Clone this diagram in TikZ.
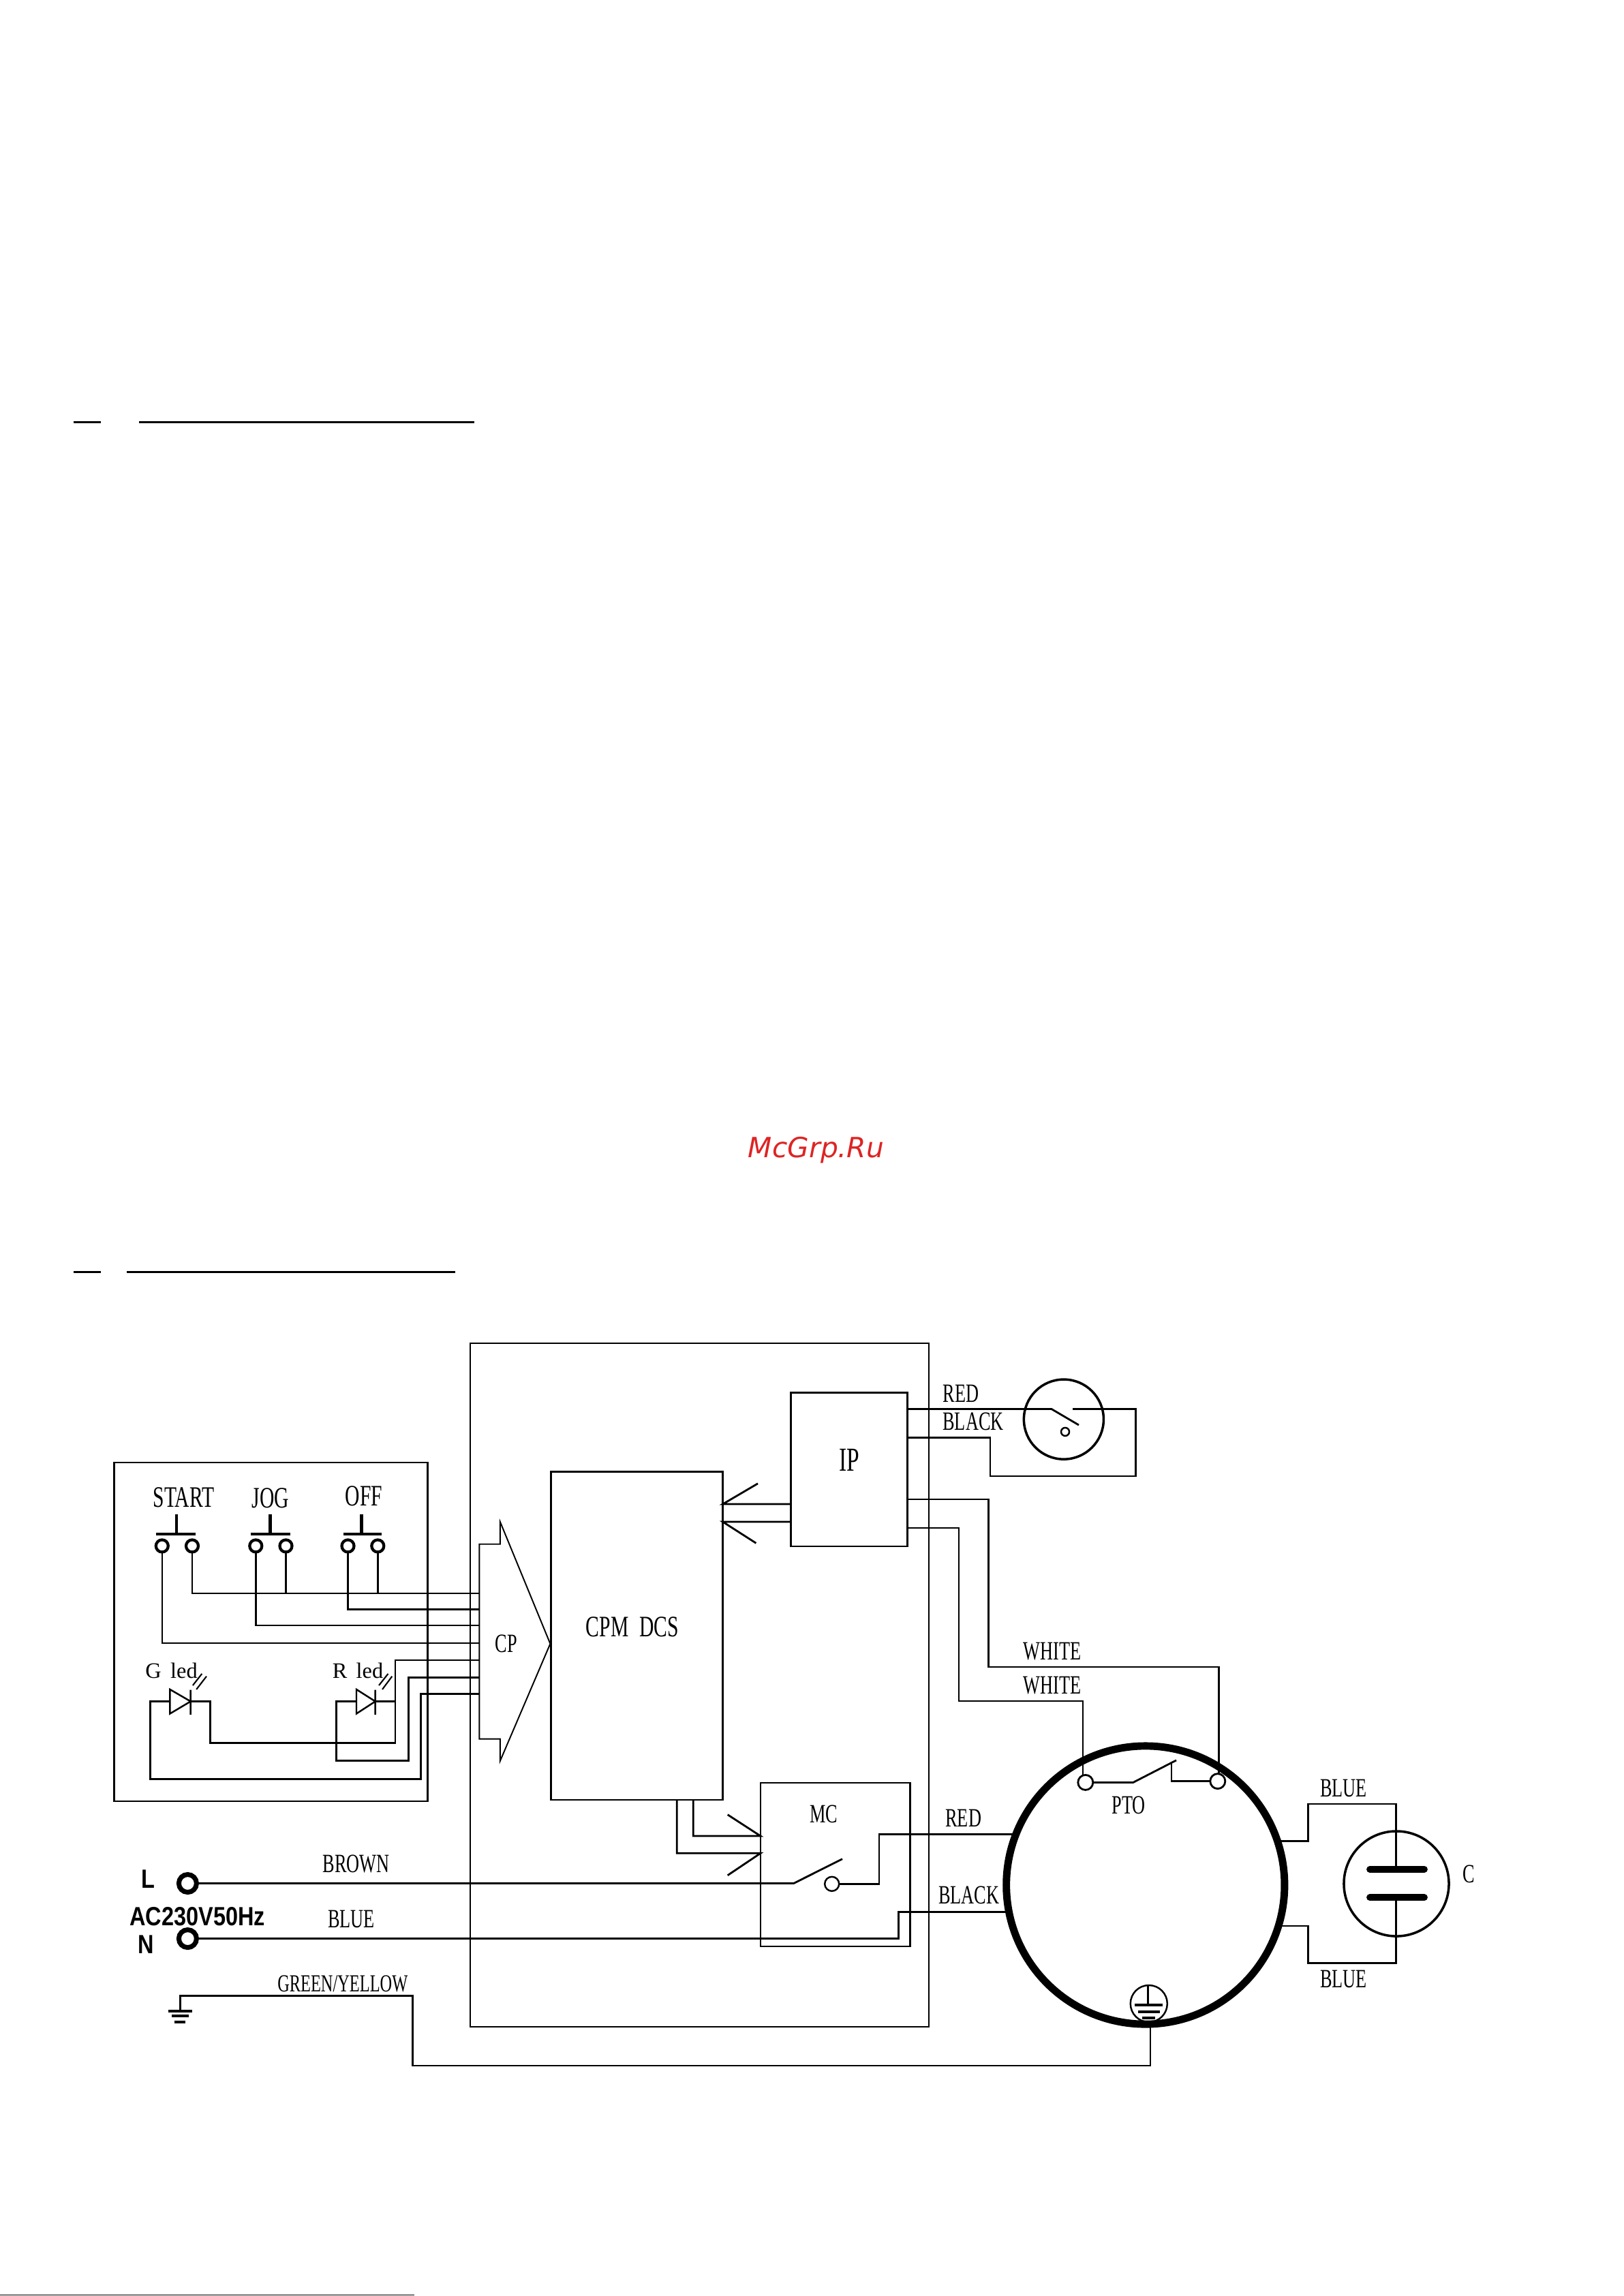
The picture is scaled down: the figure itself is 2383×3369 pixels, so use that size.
\documentclass[tikz,border=0pt]{standalone}
\usepackage{fontspec}
\setmainfont{Liberation Serif}
\newfontfamily\wirefont[FakeStretch=0.68]{Liberation Serif}
\newfontfamily\acfont[FakeStretch=0.84]{Liberation Sans}
\newfontfamily\markfont{DejaVu Sans}
\definecolor{markred}{RGB}{222,36,36}
\tikzset{
	wire/.style={line width=0.8pt},
	thinwire/.style={line width=0.55pt},
	box/.style={rectangle,draw,line width=0.75pt,inner sep=0pt,outer sep=0pt},
	contact/.style={circle,draw,fill=white,line width=1.2pt,minimum size=0.18cm,inner sep=0pt,outer sep=0pt},
	ring/.style={circle,draw,line width=1pt,inner sep=0pt,outer sep=0pt},
	lbl/.style={inner sep=0pt,font=\wirefont\fontsize{11}{11}\selectfont},
	biglbl/.style={inner sep=0pt,font=\wirefont\fontsize{12.4}{13}\selectfont},
	ledlbl/.style={inner sep=0pt,font=\fontsize{9.2}{10}\selectfont},
	sans/.style={inner sep=0pt,font=\acfont\bfseries\fontsize{11}{12}\selectfont}
}
\begin{document}
\begin{tikzpicture}[x=0.01cm,y=-0.01cm]
	\useasboundingbox (0,0) rectangle (2383,3369);
	\draw[line width=0.95pt] (108,619.3)--(148,619.3) (204,619.3)--(696,619.3);
	\draw[line width=0.95pt] (108,1866.3)--(148,1866.3) (185.8,1866.3)--(668,1866.3);
	\draw[line width=0.4pt] (0,3367.6)--(608,3367.6);
	\node[inner sep=0pt,text=markred,font=\markfont\itshape\fontsize{11.6}{12}\selectfont] (mark) at (1197.5,1688) {McGrp.Ru};
	% boxes
	\node[box,minimum width=4.598cm,minimum height=4.967cm] (panel) at (397.6,2394.4) {};
	\node[box,line width=0.65pt,minimum width=6.726cm,minimum height=10.02cm] (cabinet) at (1026.3,2472.4) {};
	\node[box,minimum width=2.518cm,minimum height=4.812cm] (cpm) at (934.6,2400.4) {};
	\node[box,minimum width=1.715cm,minimum height=2.255cm] (ip) at (1246,2156) {};
	\node[box,minimum width=2.196cm,minimum height=2.4cm] (mc) at (1225.8,2736) {};
	\node[biglbl] (cpmtxt) at (928,2387.5) {CPM\hspace{2.5pt} DCS};
	\node[biglbl,font=\wirefont\fontsize{14}{14}\selectfont] (iptxt) at (1246,2142) {IP};
	\node[lbl] (mctxt) at (1208.8,2661.7) {MC};
	% push buttons
	\foreach \nm/\txt/\lx/\rx/\sx/\bl/\br/\tx/\ty in {start/START/237.8/282/259/229/287/269.5/2197.6,jog/JOG/375.3/419.5/396.7/367.7/425.7/396.7/2198.7,off/OFF/510.5/554.3/530.6/503.8/559.6/533.8/2195.7}{
		\node[contact] (\nm l) at (\lx,2268.4) {};
		\node[contact] (\nm r) at (\rx,2268.4) {};
		\draw[line width=1.4pt] (\sx,2221.7)--(\sx,2251) (\bl,2251)--(\br,2251);
		\node[biglbl] (\nm txt) at (\tx,\ty) {\txt};
	}
	% plug
	\draw[line width=0.55pt] (703.4,2265.7)--(733.8,2265.7)--(733.8,2232.8)--(807.4,2411.9)--(733.8,2584)--(733.8,2551.6)--(703.4,2551.6)--cycle;
	\node[lbl] (cptxt) at (742.7,2412) {CP};
	\foreach \n/\y in {1/2338,2/2361.4,3/2385,4/2410.8,5/2436,6/2461.3,7/2485.8}
		\coordinate (cp\n) at (703.4,\y);
	\draw[wire] (startr.south) |- (cp1);
	\draw[wire] (jogr.south) -- (jogr.south |- cp1);
	\draw[wire] (offr.south) -- (offr.south |- cp1);
	\draw[wire] (offl.south) |- (cp2);
	\draw[wire] (jogl.south) |- (cp3);
	\draw[thinwire] (startl.south) |- (cp4);
	% leds
	\foreach \nm/\ax/\cx/\txt/\tx/\ra/\rb/\rc/\rd in {g/249.4/279.7/G\hspace{1.5pt} led/251.6/282.9/296.3/288.2/303,r/523/550.7/R\hspace{1.5pt} led/525/556/569.5/561/575.3}{
		\coordinate (\nm an) at (\ax,2496.5);
		\coordinate (\nm cat) at (\cx,2496.5);
		\draw[line width=0.7pt] (\ax,2478.9)--(\cx,2496.5)--(\ax,2514.5)--cycle (\cx,2479.6)--(\cx,2516);
		\draw[line width=0.6pt] (\ra,2473)--(\rb,2455.9) (\rc,2478.9)--(\rd,2459.7);
		\node[ledlbl] (\nm txt) at (\tx,2451.3) {\txt};
	}
	\coordinate (ja) at (308.8,2557.3);
	\coordinate (jb) at (580,2557.3);
	\draw[wire] (gcat) -| (ja) -- (jb) |- (cp5);
	\draw[wire] (rcat) -- (rcat -| jb);
	\coordinate (jc) at (493.6,2583.7);
	\coordinate (jd) at (599.4,2583.7);
	\draw[wire] (ran) -| (jc) -- (jd) |- (cp6);
	\coordinate (je) at (220.8,2610.1);
	\coordinate (jf) at (617.7,2610.1);
	\draw[wire] (gan) -| (je) -- (jf) |- (cp7);
	% signal arrows
	\coordinate (ipa) at (cpm.east |- 0,2207);
	\coordinate (ipb) at (cpm.east |- 0,2233);
	\draw[wire] (ip.west |- ipa) -- (ipa) -- (1112,2176.8);
	\draw[wire] (ip.west |- ipb) -- (ipb) -- (1109.4,2264.3);
	\coordinate (mca) at (mc.west |- 0,2694);
	\coordinate (mcb) at (mc.west |- 0,2719.3);
	\draw[wire] (cpm.south -| 1017.2,0) |- (mca) -- (1067.7,2662.7);
	\draw[wire] (cpm.south -| 993.3,0) |- (mcb) -- (1067.7,2751.7);
	% overload switch
	\node[ring,minimum size=1.17cm] (ovl) at (1560.9,2082.6) {};
	\node[ring,line width=0.7pt,minimum size=0.12cm] (ovlc) at (1563,2100.9) {};
	\coordinate (ovla) at (1542.8,2067.4);
	\coordinate (ovlb) at (1574.3,2067.4);
	\draw[wire] (ip.east |- ovla) -- (ovla) -- (1583,2091);
	\coordinate (ovlk) at (1666.7,2166);
	\coordinate (ovlm) at (1453,2109.8);
	\draw[wire] (ovlb) -| (ovlk) -| (ovlm) -- (ip.east |- ovlm);
	\node[lbl] (redtop) at (1410,2045) {RED};
	\node[lbl] (blacktop) at (1428,2086) {BLACK};
	% motor
	\node[circle,draw,line width=3.1pt,minimum size=4.08cm,inner sep=0pt,outer sep=0pt] (motor) at (1680.8,2766) {};
	\node[contact,minimum size=0.22cm,line width=0.8pt] (ptol) at (1592.8,2615.4) {};
	\node[contact,minimum size=0.22cm,line width=0.8pt] (ptor) at (1786.8,2613.6) {};
	\coordinate (ptoa) at (1662.8,2615.4);
	\coordinate (ptob) at (1719,2587.5);
	\draw[wire] (ptol.east) -- (ptoa) -- (1726,2582.9);
	\draw[wire] (ptob) |- (ptor.west);
	\node[lbl] (ptotxt) at (1656,2649.3) {PTO};
	\coordinate (wha) at (1450.4,2200);
	\coordinate (whb) at (1788.5,2446);
	\draw[wire] (ip.east |- wha) -- (wha) |- (whb) -- (ptor.north -| whb);
	\coordinate (whc) at (1406.8,2242);
	\coordinate (whd) at (1589.3,2496);
	\draw[thinwire] (ip.east |- whc) -- (whc) |- (whd) -- (ptol.north -| whd);
	\node[lbl] (white1) at (1544,2423) {WHITE};
	\node[lbl] (white2) at (1544,2473) {WHITE};
	% mains
	\node[circle,draw,line width=2pt,minimum size=0.26cm,inner sep=0pt,outer sep=0pt] (lterm) at (275.4,2763.5) {};
	\node[circle,draw,line width=2pt,minimum size=0.26cm,inner sep=0pt,outer sep=0pt] (nterm) at (275.4,2844.6) {};
	\node[ring,line width=0.7pt,minimum size=0.21cm,fill=white] (mcc) at (1220.7,2764.3) {};
	\coordinate (mcs) at (1164.6,2763.5);
	\draw[wire] (lterm.east) -- (mcs) -- (1236,2727.7);
	\coordinate (bka) at (1318.4,2844.6);
	\coordinate (bkb) at (1318.4,2805.7);
	\draw[wire] (nterm.east) -- (bka) -- (bkb) -- (bkb -| motor.191.2);
	\coordinate (rda) at (1290,2764.3);
	\coordinate (rdb) at (1290,2691.4);
	\draw[wire] (mcc.east) -- (rda) -- (rdb) -- (rdb -| motor.158.7);
	\node[lbl] (brown) at (522.5,2735) {BROWN};
	\node[lbl] (bluel) at (515.4,2816) {BLUE};
	\node[sans] (acv) at (289.8,2811.7) {AC230V50Hz};
	\node[sans] (ltxt) at (217,2756.7) {L};
	\node[sans] (ntxt) at (214.4,2853.3) {N};
	\node[lbl] (redm) at (1413.7,2667.9) {RED};
	\node[lbl] (blackm) at (1421.7,2781) {BLACK};
	% earth
	\coordinate (gnd) at (264.2,2950.7);
	\coordinate (ea) at (605.3,2928.3);
	\coordinate (eb) at (605.3,3031);
	\draw[wire] (gnd) |- (ea) -- (eb) -| (motor.272.2);
	\draw[line width=1.1pt] (246.7,2950.7)--(281.8,2950.7) (252.3,2958.3)--(276.8,2958.3) (255.8,2966.7)--(272,2966.7);
	\node[lbl,font=\wirefont\fontsize{10.2}{11}\selectfont] (gy) at (502.8,2910.7) {GREEN/YELLOW};
	\node[ring,line width=0.7pt,minimum size=0.54cm] (mgnd) at (1685.8,2940) {};
	\draw[line width=0.7pt] (1684.6,2912.5)--(1684.6,2941.8);
	\draw[line width=1.1pt] (1664.5,2941.8)--(1706.4,2941.8) (1670,2951.8)--(1701.8,2951.8) (1676,2960.7)--(1695,2960.7);
	% capacitor
	\node[ring,minimum size=1.54cm] (cap) at (2049,2764) {};
	\coordinate (capa) at (2048.6,2647);
	\coordinate (capb) at (2048.6,2880.4);
	\coordinate (capc) at (1919.4,2701.8);
	\coordinate (capd) at (1919.4,2826);
	\draw[wire] (capc -| motor.18.2) -- (capc) |- (capa) -- (capa |- 0,2742.9);
	\draw[wire] (capd -| motor.-17) -- (capd) |- (capb) -- (capb |- 0,2784.3);
	\draw[line width=2.8pt,line cap=round] (2010,2742.9)--(2090,2742.9) (2010,2784.3)--(2090,2784.3);
	\node[lbl] (blue1) at (1971.6,2624) {BLUE};
	\node[lbl] (blue2) at (1971.6,2904) {BLUE};
	\node[lbl] (ctxt) at (2155,2750) {C};
\end{tikzpicture}
\end{document}
